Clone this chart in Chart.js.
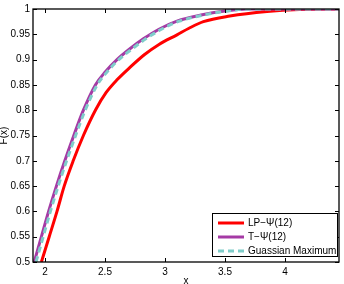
<!DOCTYPE html>
<html>
<head>
<meta charset="utf-8">
<script src="https://cdn.jsdelivr.net/npm/chart.js@4"></script>
<style>
  html, body { margin: 0; padding: 0; background: #fff; }
  #wrap { width: 344px; height: 284px; }
</style>
</head>
<body>
<div id="wrap"><canvas id="myChart" width="344" height="284"></canvas></div>
<script>
// series
var seriesNames = ["LP\u2212\u03A8(12)", "T\u2212\u03A8(12)", "Guassian Maximum"];
var redX = [1.97, 2.035, 2.1, 2.16, 2.235, 2.32, 2.42, 2.51, 2.6, 2.71, 2.83, 2.95, 3.1, 3.2, 3.32, 3.54, 3.85, 4.12, 4.45];
var redY = [0.5, 0.55, 0.6, 0.65, 0.7, 0.75, 0.8, 0.835, 0.86, 0.885, 0.91, 0.93, 0.949, 0.962, 0.975, 0.986, 0.995, 0.999, 1.0];
var purpleX = [1.91, 1.97, 2.03, 2.095, 2.165, 2.24, 2.32, 2.42, 2.5, 2.6, 2.7, 2.82, 2.95, 3.1, 3.3, 3.5, 3.68, 4.45];
var purpleY = [0.5, 0.55, 0.6, 0.65, 0.7, 0.75, 0.8, 0.85, 0.875, 0.9, 0.92, 0.941, 0.96, 0.976, 0.988, 0.996, 1.0, 1.0];
var cyanX = [1.925, 1.985, 2.045, 2.11, 2.18, 2.255, 2.335, 2.435, 2.515, 2.615, 2.72, 2.84, 2.97, 3.12, 3.32, 3.52, 3.7, 4.45];
var cyanY = [0.5, 0.55, 0.6, 0.65, 0.7, 0.75, 0.8, 0.85, 0.875, 0.9, 0.92, 0.941, 0.96, 0.976, 0.988, 0.996, 1.0, 1.0];
var xTicks = [2, 2.5, 3, 3.5, 4];
var yTicks = [0.5, 0.55, 0.6, 0.65, 0.7, 0.75, 0.8, 0.85, 0.9, 0.95, 1];
var xTitle = 'x', yTitle = 'F(x)';

function pts(xs, ys){
    return xs.map((x, i) => ({x: x, y: ys[i]}));
}

var FONT = "'Liberation Sans', Arial, Helvetica, sans-serif";

// frame with inward ticks, axis titles and the boxed legend, matlab style
var frame = {
    id: 'frame',
    afterDraw(chart){
        var ctx = chart.ctx, a = chart.chartArea;
        var xs = chart.scales.x, ys = chart.scales.y;
        ctx.save();
        ctx.strokeStyle = '#000';
        ctx.lineWidth = 1.3;
        ctx.strokeRect(a.left, a.top, a.right - a.left, a.bottom - a.top);
        ctx.lineWidth = 1;
        ctx.beginPath();
        xTicks.forEach(v => {
            var p = Math.round(xs.getPixelForValue(v)) + 0.5;
            ctx.moveTo(p, a.bottom); ctx.lineTo(p, a.bottom - 4);
            ctx.moveTo(p, a.top); ctx.lineTo(p, a.top + 4);
        });
        yTicks.forEach(v => {
            var p = Math.round(ys.getPixelForValue(v)) + 0.5;
            ctx.moveTo(a.left, p); ctx.lineTo(a.left + 4, p);
            ctx.moveTo(a.right, p); ctx.lineTo(a.right - 4, p);
        });
        ctx.stroke();

        // axis titles
        ctx.fillStyle = '#000';
        ctx.font = '10px ' + FONT;
        ctx.textAlign = 'center';
        ctx.textBaseline = 'middle';
        ctx.fillText(xTitle, (a.left + a.right) / 2, 281);
        ctx.save();
        ctx.translate(4, (a.top + a.bottom) / 2);
        ctx.rotate(-Math.PI / 2);
        ctx.fillText(yTitle, 0, 0);
        ctx.restore();

        // legend
        var bx = 212, by = 213, bw = 125, bh = 43;
        ctx.fillStyle = '#fff';
        ctx.fillRect(bx, by, bw, bh);
        ctx.strokeStyle = '#000';
        ctx.lineWidth = 1;
        ctx.strokeRect(bx + 0.5, by + 0.5, bw, bh);
        var rows = [223, 237, 251];
        chart.data.datasets.forEach((ds, i) => {
            ctx.strokeStyle = ds.borderColor;
            ctx.lineWidth = ds.borderWidth;
            ctx.setLineDash(ds.borderDash || []);
            ctx.beginPath();
            ctx.moveTo(218, rows[i]); ctx.lineTo(244, rows[i]);
            ctx.stroke();
            ctx.setLineDash([]);
            ctx.fillStyle = '#000';
            ctx.font = '10px ' + FONT;
            ctx.textAlign = 'left';
            ctx.textBaseline = 'middle';
            ctx.fillText(ds.label, 248, rows[i] + 0.5);
        });
        ctx.restore();
    }
};

var ctx = document.getElementById('myChart').getContext('2d');
var chart = new Chart(ctx, {
    type: 'line',
    data: {
        datasets: [{
            label: seriesNames[0],
            data: pts(redX, redY),
            borderColor: '#ff0000',
            borderWidth: 3,
            pointRadius: 0,
            order: 3,
            cubicInterpolationMode: 'monotone'
        }, {
            label: seriesNames[1],
            data: pts(purpleX, purpleY),
            borderColor: '#a53aa5',
            borderWidth: 3,
            pointRadius: 0,
            order: 2,
            cubicInterpolationMode: 'monotone'
        }, {
            label: seriesNames[2],
            data: pts(cyanX, cyanY),
            borderColor: '#7fcdca',
            borderWidth: 3,
            borderDash: [6, 4],
            pointRadius: 0,
            order: 1,
            cubicInterpolationMode: 'monotone'
        }]
    },
    options: {
        responsive: false,
        animation: false,
        layout: { padding: { top: 7, right: 5, left: 0, bottom: 0 } },
        plugins: { legend: { display: false }, tooltip: { enabled: false } },
        scales: {
            x: {
                type: 'linear',
                min: 1.9,
                max: 4.45,
                afterBuildTicks: s => { s.ticks = xTicks.map(v => ({value: v})); },
                afterFit: s => { s.height = 22; },
                grid: { display: false, drawTicks: false },
                border: { display: false },
                ticks: {
                    color: '#000', padding: 4, maxRotation: 0,
                    font: { family: FONT, size: 10 },
                    callback: v => String(v)
                }
            },
            y: {
                type: 'linear',
                min: 0.5,
                max: 1,
                afterBuildTicks: s => { s.ticks = yTicks.map(v => ({value: v})); },
                afterFit: s => { s.width = 33; },
                grid: { display: false, drawTicks: false },
                border: { display: false },
                ticks: {
                    color: '#000', padding: 3,
                    font: { family: FONT, size: 10 },
                    callback: v => String(+v.toFixed(2))
                }
            }
        }
    },
    plugins: [frame]
});
</script>
</body>
</html>
